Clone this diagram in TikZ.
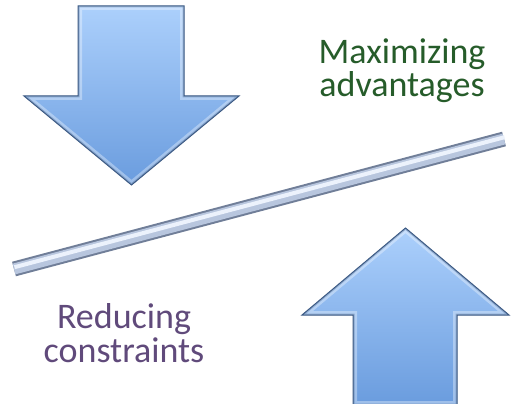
\documentclass[tikz,border=0pt]{standalone}
\usepackage{fontspec}
\setmainfont{Carlito}
\definecolor{arrowtop}{RGB}{172,208,252}
\definecolor{arrowbot}{RGB}{106,156,222}
\definecolor{arrowedge}{RGB}{60,90,132}
\definecolor{barlight}{RGB}{236,242,252}
\definecolor{barmid}{RGB}{184,198,222}
\definecolor{baredge}{RGB}{112,126,152}
\definecolor{textgreen}{RGB}{38,92,42}
\definecolor{textpurple}{RGB}{96,74,123}
\tikzset{
	arrowfill/.style={top color=arrowtop, bottom color=arrowbot},
	arrowline/.style={draw=arrowedge, line width=1pt, line join=miter},
	bevellight/.style={line width=8pt, white, opacity=0.35},
	beveldark/.style={line width=3pt, arrowedge, opacity=0.35},
	beamouter/.style={line width=15pt, baredge, line cap=butt},
	beammid/.style={line width=11pt, barmid, line cap=butt},
	beamshine/.style={line width=4pt, barlight, line cap=butt},
	bigtext/.style={font=\fontsize{36}{34}\selectfont, align=center, inner sep=0pt, anchor=base}
}
\def\bevelarrow#1{%
	\shade[arrowfill] #1;
	\begin{scope}
		\clip #1;
		\draw[bevellight] #1;
		\draw[beveldark] #1;
	\end{scope}
	\draw[arrowline] #1;
}

\begin{document}
\begin{tikzpicture}[x=1pt, y=-1pt]
		%%%%% START %%%%%
		
		\fill[white] (0, 0) rectangle (512, 404);
		\useasboundingbox (0, 0) rectangle (512, 404);
		
		% down arrow
		\bevelarrow{(78, 6) -- (184, 6) -- (184, 96) -- (239, 96) -- (131.5, 185) -- (24, 96) -- (78, 96) -- cycle}
		
		% up arrow
		\bevelarrow{(405.5, 228) -- (509, 315) -- (457, 315) -- (457, 405) -- (353, 405) -- (353, 315) -- (302, 315) -- cycle}
		
		% the beam
		\coordinate (beamL) at (14, 269);
		\coordinate (beamR) at (504, 139);
		\draw[beamouter] (beamL) -- (beamR);
		\draw[beammid] (beamL) -- (beamR);
		\draw[beamshine] ([shift={(0.5, -1.8)}]beamL) -- ([shift={(0.5, -1.8)}]beamR);
		
		\node[bigtext, text=textgreen] (maxi) at (402, 97) {Maximizing\\advantages};
		\node[bigtext, text=textpurple] (redu) at (124, 362) {Reducing\\constraints};
		
		%%%%% END %%%%%
	\end{tikzpicture}
\end{document}
